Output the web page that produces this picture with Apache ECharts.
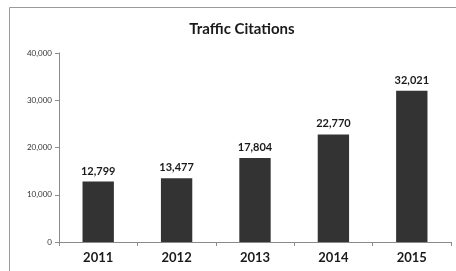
<!DOCTYPE html>
<html>
<head>
<meta charset="utf-8">
<script src="https://cdn.jsdelivr.net/npm/echarts@6/dist/echarts.min.js"></script>
<style>
  html, body { margin: 0; padding: 0; background: #fff; }
  #main { width: 456px; height: 271px; }
</style>
</head>
<body>
<div id="main"></div>
<script>
// 数据
const years = ['2011', '2012', '2013', '2014', '2015'];
const citations = [12799, 13477, 17804, 22770, 32021];
const yTicks = [0, 10000, 20000, 30000, 40000];

const fmt = function (v) {
    return Number(v).toLocaleString('en-US');
};

var myChart = echarts.init(document.getElementById('main'));

var option = {
    animation: false,
    backgroundColor: '#fff',
    title: {
        text: 'Traffic Citations',
        left: 237,
        textAlign: 'center',
        top: 17,
        textStyle: { fontFamily: 'Lato', fontWeight: 'bold', fontSize: 15, color: '#1a1a1a' }
    },
    graphic: [{
        type: 'rect',
        shape: { x: 9.5, y: 7.5, width: 470, height: 290 },
        style: { fill: 'none', stroke: '#9a9a9a', lineWidth: 1 },
        silent: true
    }],
    grid: { left: 59, right: 5, top: 53, bottom: 29 },
    xAxis: {
        type: 'category',
        data: years,
        axisLine: { lineStyle: { color: '#8a8a8a' } },
        axisTick: { show: true, length: 4, lineStyle: { color: '#8a8a8a' } },
        axisLabel: { fontFamily: 'Lato', fontWeight: 'bold', fontSize: 13, color: '#1a1a1a', margin: 9 }
    },
    yAxis: {
        type: 'value',
        min: yTicks[0],
        max: yTicks[yTicks.length - 1],
        interval: 10000,
        splitLine: { show: false },
        axisLine: { show: true, lineStyle: { color: '#8a8a8a' } },
        axisTick: { show: true, length: 4, lineStyle: { color: '#8a8a8a' } },
        axisLabel: { fontFamily: 'Lato', fontSize: 8, color: '#333', margin: 7, formatter: fmt }
    },
    series: [{
        type: 'bar',
        data: citations,
        barWidth: '40%',
        itemStyle: { color: '#333333' },
        label: {
            show: true,
            position: 'top',
            distance: 5,
            fontFamily: 'Lato',
            fontWeight: 'bold',
            fontSize: 11,
            color: '#1a1a1a',
            formatter: function (p) { return fmt(p.value); }
        }
    }]
};

myChart.setOption(option);
</script>
</body>
</html>
